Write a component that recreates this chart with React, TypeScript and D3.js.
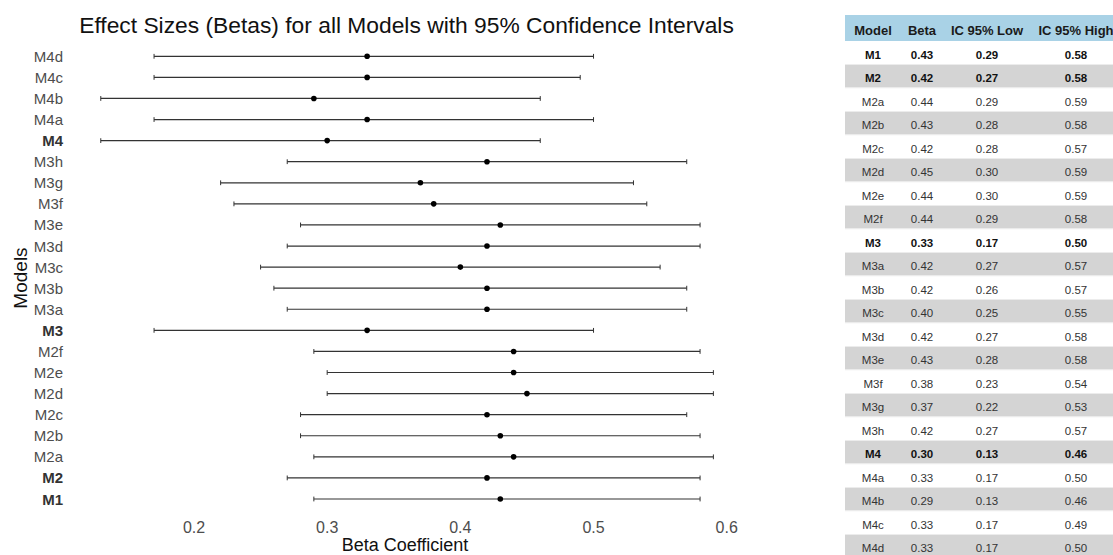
import React from 'react';
import * as d3 from 'd3';

// table order (top to bottom in the table)
const models = ['M1', 'M2', 'M2a', 'M2b', 'M2c', 'M2d', 'M2e', 'M2f', 'M3', 'M3a', 'M3b', 'M3c', 'M3d', 'M3e', 'M3f', 'M3g', 'M3h', 'M4', 'M4a', 'M4b', 'M4c', 'M4d'];
const betas = [0.43, 0.42, 0.44, 0.43, 0.42, 0.45, 0.44, 0.44, 0.33, 0.42, 0.42, 0.40, 0.42, 0.43, 0.38, 0.37, 0.42, 0.30, 0.33, 0.29, 0.33, 0.33];
const lows = [0.29, 0.27, 0.29, 0.28, 0.28, 0.30, 0.30, 0.29, 0.17, 0.27, 0.26, 0.25, 0.27, 0.28, 0.23, 0.22, 0.27, 0.13, 0.17, 0.13, 0.17, 0.17];
const highs = [0.58, 0.58, 0.59, 0.58, 0.57, 0.59, 0.59, 0.58, 0.50, 0.57, 0.57, 0.55, 0.58, 0.58, 0.54, 0.53, 0.57, 0.46, 0.50, 0.46, 0.49, 0.50];
const boldModels = ['M1', 'M2', 'M3', 'M4'];
const xTicks = [0.2, 0.3, 0.4, 0.5, 0.6];
const tableHeaders = ['Model', 'Beta', 'IC 95% Low', 'IC 95% High'];

const W = 1113;
const H = 555;
const font = 'Liberation Sans, Arial, sans-serif';

const rows = models.map((m, i) => ({ model: m, beta: betas[i], low: lows[i], high: highs[i] }));

const App = () => {
  // chart scales
  const x = d3.scaleLinear().domain([0.2, 0.6]).range([194, 726.7]);
  const chartOrder = [...models].reverse(); // M4d on top
  const y = d3.scalePoint<string>().domain(chartOrder).range([56.3, 499]);

  // table layout
  const colCenters = [873, 922, 987, 1076];
  const tableLeft = 845;
  const headerTop = 15;
  const headerH = 26;
  const rowH = 23.5;
  const fmt = d3.format('.2f');

  return (
    <svg width={W} height={H} style={{ position: 'fixed', left: 0, top: 0, background: '#fff' }} fontFamily={font}>
      <rect width={W} height={H} fill="#fff" />
      <text x={406.5} y={33} textAnchor="middle" fontSize={22.8} fill="#111">
        Effect Sizes (Betas) for all Models with 95% Confidence Intervals
      </text>

      {/* y axis labels */}
      {chartOrder.map(m => {
        const bold = boldModels.includes(m);
        return (
          <text key={m} x={63} y={(y(m) ?? 0) + 5.5} textAnchor="end" fontSize={15}
            fontWeight={bold ? 'bold' : 'normal'} fill={bold ? '#333' : '#4d4d4d'}>{m}</text>
        );
      })}
      <text transform="translate(26.5,278) rotate(-90)" textAnchor="middle" fontSize={19} fill="#111">Models</text>

      {/* error bars */}
      {rows.map(r => {
        const yy = y(r.model) ?? 0;
        return (
          <g key={r.model}>
            <line x1={x(r.low)} x2={x(r.high)} y1={yy} y2={yy} stroke="#333" strokeWidth={1.2} />
            <line x1={x(r.low)} x2={x(r.low)} y1={yy - 2.4} y2={yy + 2.4} stroke="#333" strokeWidth={1} />
            <line x1={x(r.high)} x2={x(r.high)} y1={yy - 2.4} y2={yy + 2.4} stroke="#333" strokeWidth={1} />
            <circle cx={x(r.beta)} cy={yy} r={2.8} fill="#000" />
          </g>
        );
      })}

      {/* x axis */}
      {xTicks.map(t => (
        <text key={t} x={x(t)} y={533} textAnchor="middle" fontSize={16} fill="#4d4d4d">{t.toFixed(1)}</text>
      ))}
      <text x={405} y={551} textAnchor="middle" fontSize={18} fill="#111">Beta Coefficient</text>

      {/* table */}
      <rect x={tableLeft} y={headerTop} width={W - tableLeft + 10} height={headerH} fill="#a9d2e6" />
      {tableHeaders.map((h, i) => (
        <text key={h} x={colCenters[i]} y={headerTop + 19.5} textAnchor="middle" fontSize={13} fontWeight="bold" fill="#1a1a1a">{h}</text>
      ))}
      {rows.map((r, i) => {
        const top = headerTop + headerH + i * rowH;
        const bold = boldModels.includes(r.model);
        const vals = [r.model, fmt(r.beta), fmt(r.low), fmt(r.high)];
        return (
          <g key={r.model}>
            <rect x={tableLeft} y={top + 0.5} width={W - tableLeft + 10} height={rowH - 1}
              fill={i % 2 === 1 ? '#d4d4d4' : '#fff'} />
            <line x1={tableLeft} x2={W} y1={top + rowH} y2={top + rowH} stroke="#ececec" strokeWidth={1} />
            {vals.map((v, j) => (
              <text key={j} x={colCenters[j]} y={top + rowH / 2 + 6} textAnchor="middle" fontSize={11.5}
                fontWeight={bold ? 'bold' : 'normal'} fill={bold ? '#111' : '#333'}>{v}</text>
            ))}
          </g>
        );
      })}
    </svg>
  );
};

export default App;
